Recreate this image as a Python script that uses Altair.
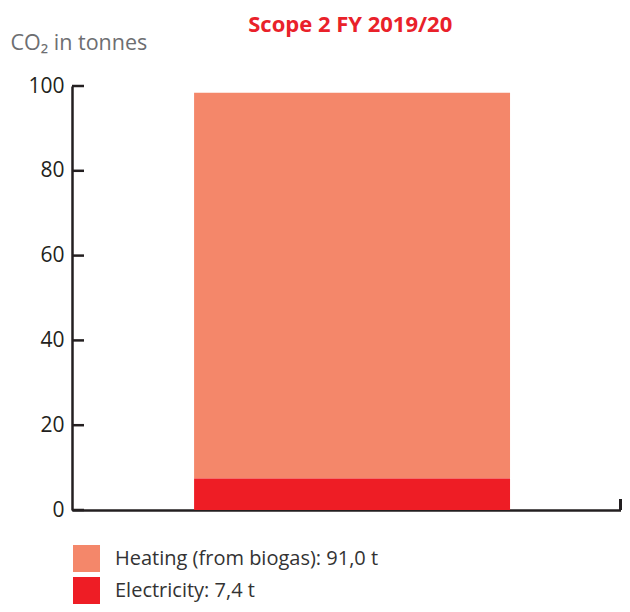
import altair as alt
import pandas as pd

categories = ["Heating (from biogas): 91,0 t", "Electricity: 7,4 t"]
values = [91.0, 7.4]
stack_order = [2, 1]
colors = ["#F4876A", "#EE1D25"]
y_ticks = [0, 20, 40, 60, 80, 100]
year = "FY 2019/20"

W, H = 548.5, 424
FONT = "Open Sans"
DARK = "#231F20"

df = pd.DataFrame({"year": [year] * 2, "source": categories, "value": values, "ord": stack_order})
ticks_df = pd.DataFrame({"t": y_ticks})

y_scale = alt.Scale(domain=[0, 100], nice=False)

bars = alt.Chart(df).mark_bar().encode(
    x=alt.X("year:N",
            scale=alt.Scale(paddingInner=0, paddingOuter=0.368, align=0.525),
            axis=alt.Axis(labels=False, ticks=False, title=None, domain=True,
                          domainColor=DARK, domainWidth=2.5)),
    y=alt.Y("value:Q", stack="zero", scale=y_scale,
            axis=alt.Axis(values=y_ticks, ticks=False, grid=False, domain=True,
                          domainColor=DARK, domainWidth=2.5, labelPadding=8,
                          labelFontSize=21, labelColor=DARK, labelFont=FONT,
                          title="CO₂ in tonnes", titleAngle=0, titleAlign="left",
                          titleBaseline="alphabetic", titleX=-62, titleY=-37,
                          titleFontSize=21.5, titleFontWeight="normal", titleColor="#6D6E71",
                          titleFont=FONT)),
    color=alt.Color("source:N", scale=alt.Scale(domain=categories, range=colors),
                    legend=alt.Legend(title=None, orient="none", legendX=1, legendY=459,
                                      direction="vertical", symbolType="square",
                                      symbolSize=729, symbolStrokeWidth=0, symbolOpacity=1,
                                      labelFontSize=20, labelFont=FONT, labelColor="#333333",
                                      labelOffset=15, rowPadding=5, labelLimit=500, padding=0)),
    order=alt.Order("ord:Q"),
)

tick_marks = alt.Chart(ticks_df).mark_rule(color=DARK, strokeWidth=2.5).encode(
    y=alt.Y("t:Q", scale=y_scale),
    x=alt.value(0),
    x2=alt.value(12),
)

end_tick = alt.Chart(ticks_df).mark_rule(color=DARK, strokeWidth=2.5).encode(
    x=alt.value(W),
    y=alt.value(H - 11),
    y2=alt.value(H),
)

chart = alt.layer(bars, tick_marks, end_tick).properties(
    width=W, height=H,
    autosize=alt.AutoSizeParams(type="none"),
    padding={"left": 64, "top": 78, "right": 1.5, "bottom": 94},
    title=alt.TitleParams("Scope 2 FY 2019/20", color="#E9212A", fontSize=22, font=FONT,
                          fontWeight="bold", anchor="middle", frame="group", dy=9, dx=4),
).configure_view(strokeWidth=0, stroke="transparent")

chart.save("out.html", embed_options={"renderer": "svg", "actions": False})
